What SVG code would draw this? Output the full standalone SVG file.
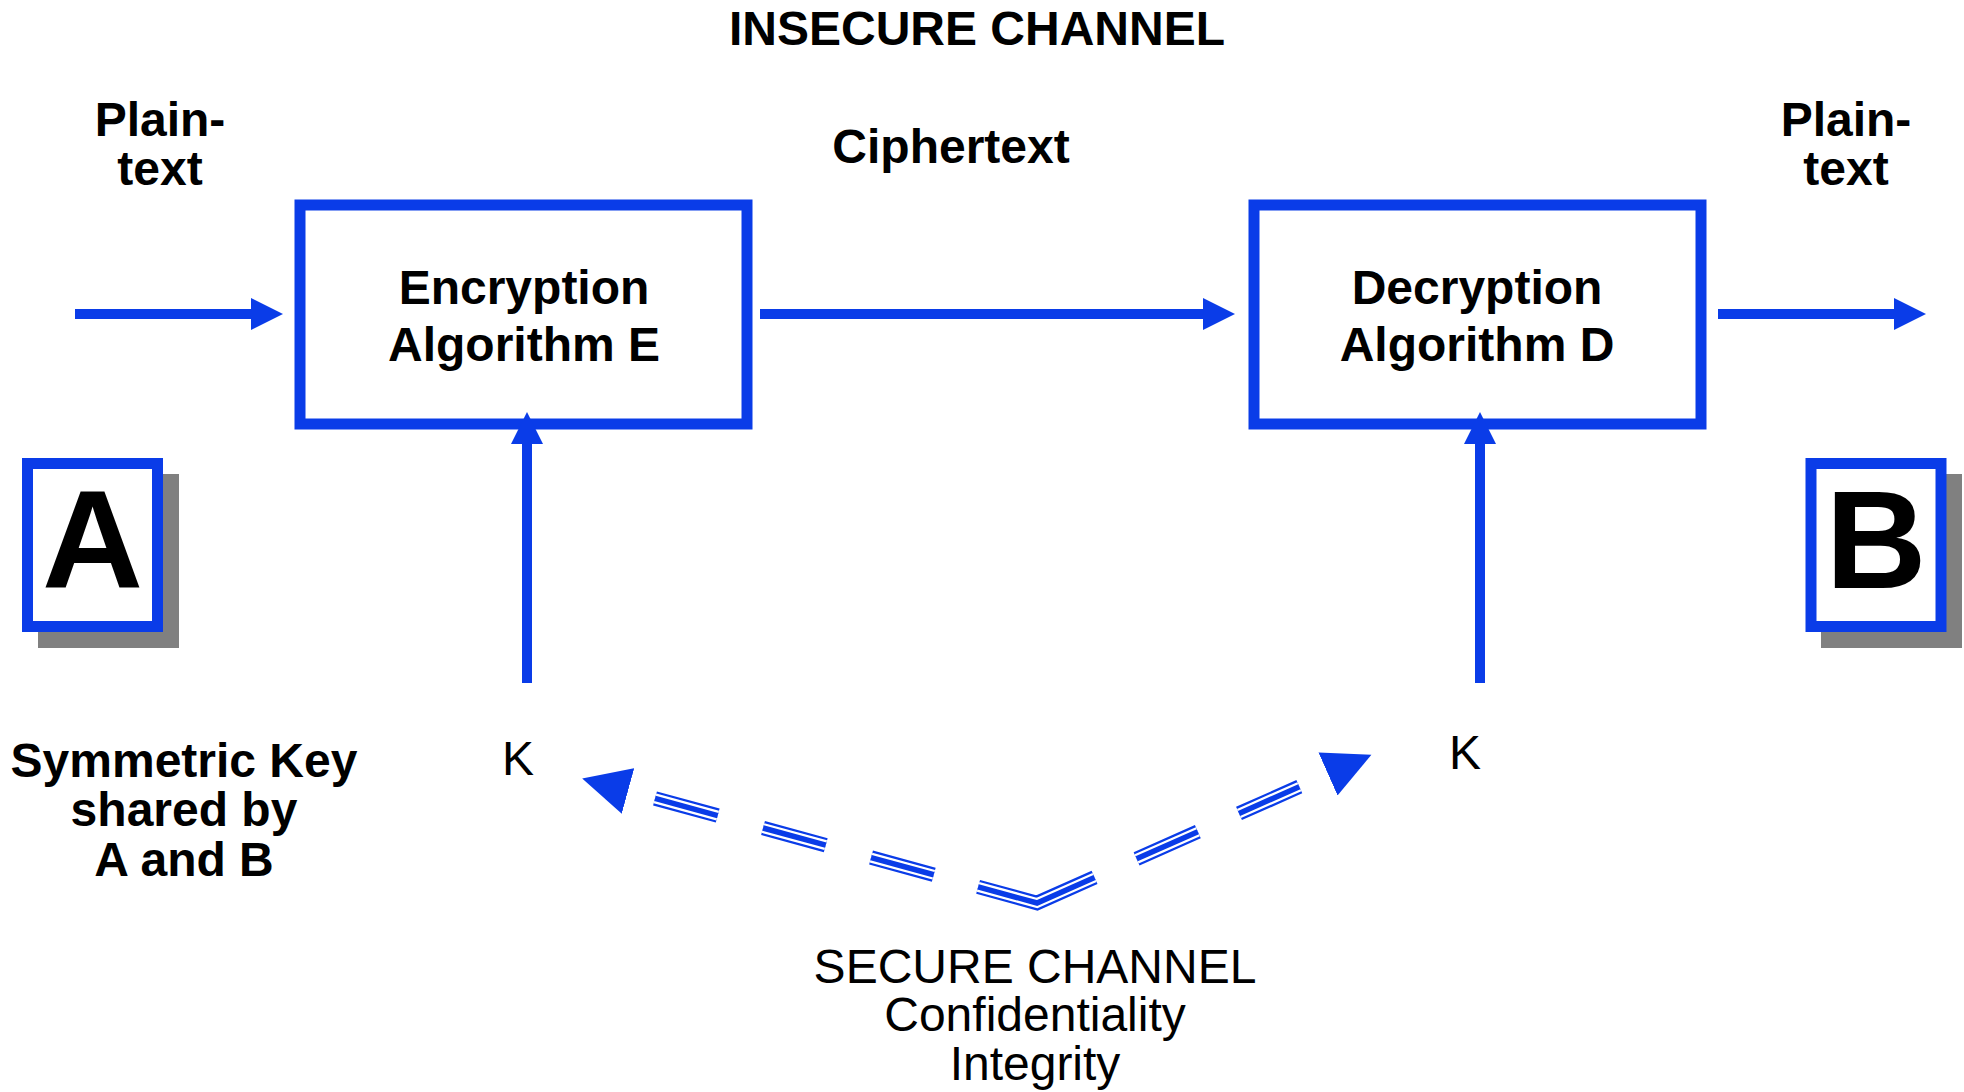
<svg xmlns="http://www.w3.org/2000/svg" width="1964" height="1092" viewBox="0 0 1964 1092">
<style>
text{font-family:"Liberation Sans",Arial,sans-serif;fill:#000;text-anchor:middle}
.b{font-weight:bold;font-size:48px}
.r{font-size:48px}
.big{font-weight:bold;font-size:140px}
.box{fill:#fff;stroke:#0a3ce8;stroke-width:11}
.shadow{fill:#808080}
.arr{stroke:#0a3ce8;stroke-width:10;fill:none}
.sc{fill:none;stroke-linejoin:miter;stroke-dasharray:0 28 65 47 65 47 65 46 124 46 67 45 66 40}
</style>
<defs>
<marker id="ah" markerUnits="userSpaceOnUse" markerWidth="34" markerHeight="34" refX="0" refY="17" orient="auto" viewBox="0 0 34 34">
<polygon points="0,1 32,17 0,33" fill="#0a3ce8"/>
</marker>
<marker id="tri" markerUnits="userSpaceOnUse" markerWidth="50" markerHeight="50" refX="0" refY="25" orient="auto-start-reverse" viewBox="0 0 50 50">
<polygon points="0,1.5 47.5,25 0,48.5" fill="#0a3ce8"/>
</marker>
</defs>

<g id="title"><text class="b" x="977" y="45">INSECURE CHANNEL</text></g>
<g id="plaintext-in"><text class="b" x="160" y="136">Plain-</text><text class="b" x="160" y="185">text</text></g>
<g id="ciphertext-label"><text class="b" x="951" y="163">Ciphertext</text></g>
<g id="plaintext-out"><text class="b" x="1846" y="136">Plain-</text><text class="b" x="1846" y="185">text</text></g>

<g id="encryption">
<rect class="box" x="300" y="205" width="447" height="219"/>
<text class="b" x="524" y="304">Encryption</text>
<text class="b" x="524" y="361">Algorithm E</text>
</g>
<g id="decryption">
<rect class="box" x="1254" y="205" width="447" height="219"/>
<text class="b" x="1477" y="304">Decryption</text>
<text class="b" x="1477" y="361">Algorithm D</text>
</g>

<g id="party-a">
<rect class="shadow" x="38" y="474" width="141" height="174"/>
<rect class="box" x="27.5" y="463.5" width="130" height="163"/>
<text class="big" x="92.5" y="588">A</text>
</g>
<g id="party-b">
<rect class="shadow" x="1821" y="474" width="141" height="174"/>
<rect class="box" x="1811" y="463.5" width="130" height="163"/>
<text class="big" x="1876" y="588">B</text>
</g>

<g id="key-label">
<text class="b" x="184" y="777">Symmetric Key</text>
<text class="b" x="184" y="826">shared by</text>
<text class="b" x="184" y="876">A and B</text>
</g>
<g id="k-left"><text class="r" x="518" y="775">K</text></g>
<g id="k-right"><text class="r" x="1465" y="769">K</text></g>
<g id="secure-label">
<text class="r" x="1035" y="983">SECURE CHANNEL</text>
<text class="r" x="1035" y="1031">Confidentiality</text>
<text class="r" x="1035" y="1080">Integrity</text>
</g>

<g id="connectors">
<path class="arr" d="M75,314 H251" marker-end="url(#ah)"/>
<path class="arr" d="M760,314 H1203" marker-end="url(#ah)"/>
<path class="arr" d="M1718,314 H1894" marker-end="url(#ah)"/>
<path class="arr" d="M527,683 V444" marker-end="url(#ah)"/>
<path class="arr" d="M1480,683 V444" marker-end="url(#ah)"/>
<g id="secure-channel">
<path class="sc" stroke="#0a3ce8" stroke-width="14.5" d="M628,791 L1037,903 L1328,774"/>
<path class="sc" stroke="#fff" stroke-width="10" d="M628,791 L1037,903 L1328,774"/>
<path class="sc" stroke="#0a3ce8" stroke-width="5.5" d="M628,791 L1037,903 L1328,774" marker-start="url(#tri)" marker-end="url(#tri)"/>
</g>
</g>
</svg>
